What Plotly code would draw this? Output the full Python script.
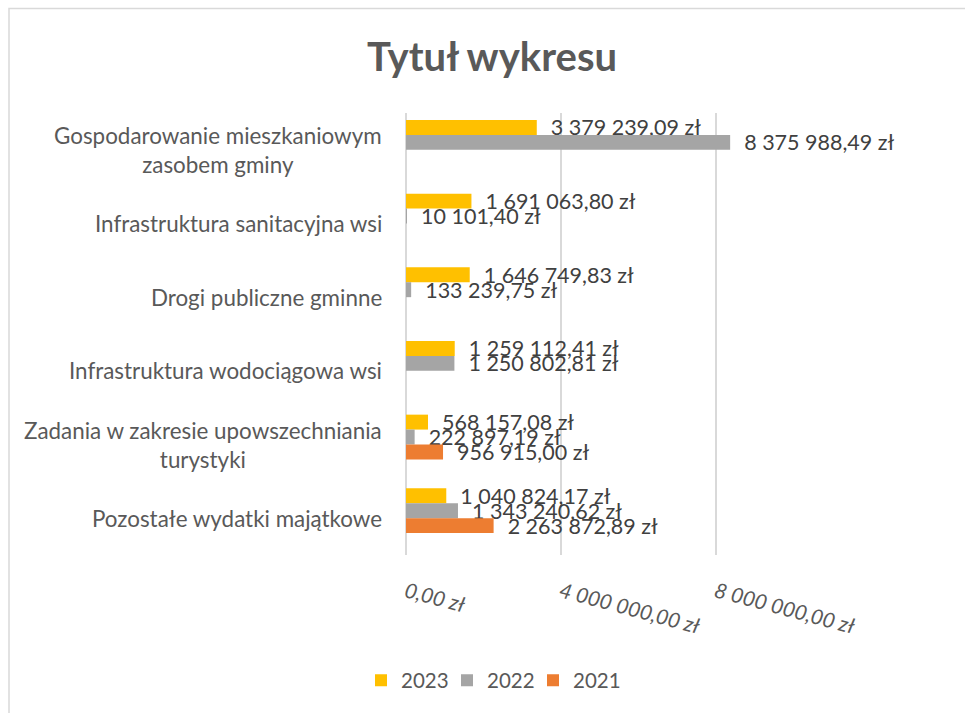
import plotly.graph_objects as go

categories = [
    "Gospodarowanie mieszkaniowym<br>zasobem gminy",
    "Infrastruktura sanitacyjna wsi",
    "Drogi publiczne gminne",
    "Infrastruktura wodociągowa wsi",
    "Zadania w zakresie upowszechniania<br>turystyki",
    "Pozostałe wydatki majątkowe",
]
series_names = ["2023", "2022", "2021"]
v2023 = [3379239.09, 1691063.80, 1646749.83, 1259112.41, 568157.08, 1040824.17]
v2022 = [8375988.49, 10101.40, 133239.75, 1250802.81, 222897.19, 1343240.62]
v2021 = [None, None, None, None, 956915.00, 2263872.89]
tick_vals = [0, 4000000, 8000000]
tick_text = ["0,00 zł", "4 000 000,00 zł", "8 000 000,00 zł"]
title_text = "Tytuł wykresu"

colors = ["#FFC000", "#A5A5A5", "#ED7D31"]
W, H = 965, 713
ML, MR, MT, MB = 406, 172, 113, 156
PW = W - ML - MR
PH = H - MT - MB
BAND = PH / 6.0
BAR = 15.0
legend_text_x = [401, 487, 573]  # px where each legend label starts
legend_ids = ["legend", "legend2", "legend3"]


def fmt(v):
    if v is None:
        return ""
    s = f"{v:,.2f}".replace(",", " ").replace(".", ",")
    return "\u00a0\u00a0" + s + " zł"


keys = [c.replace("<br>", " ") for c in categories]
fig = go.Figure()
for i, (name, vals) in enumerate(zip(series_names, [v2023, v2022, v2021])):
    fig.add_trace(go.Bar(
        name=name,
        y=keys,
        x=vals,
        orientation="h",
        marker=dict(color=colors[i], line=dict(width=0)),
        width=BAR / BAND,
        offset=(-30 + 15 * i) / BAND,
        text=[fmt(v) for v in vals],
        textposition="outside",
        constraintext="none",
        cliponaxis=False,
        textfont=dict(family="Lato", size=21.5, color="#404040"),
        hoverinfo="x+y",
        legend=legend_ids[i],
    ))

annotations = []
for key, cat in zip(keys, categories):
    annotations.append(dict(
        x=0, xref="paper", y=key, yref="y",
        text=cat, showarrow=False, xanchor="right", yanchor="middle",
        align="center", xshift=-22,
        font=dict(family="Lato", size=22.4, color="#595959"),
    ))

legends = {}
for i, lid in enumerate(legend_ids):
    legends[lid] = dict(
        orientation="h", x=(legend_text_x[i] - 40 - ML) / PW, xanchor="left",
        y=(PH - (683 - MT)) / PH, yanchor="middle",
        font=dict(family="Lato", size=20.5, color="#595959"),
        itemwidth=30, bgcolor="rgba(0,0,0,0)", borderwidth=0,
    )

fig.update_layout(
    width=W, height=H,
    margin=dict(l=ML, r=MR, t=MT, b=MB, pad=0),
    paper_bgcolor="white", plot_bgcolor="white",
    barmode="overlay",
    title=dict(text="<b>" + title_text + "</b>", x=492 / W, xanchor="center",
               y=1 - 57 / H, yanchor="middle", xref="container", yref="container",
               font=dict(family="Lato", size=40, color="#595959")),
    xaxis=dict(range=[0, 10000000], tickvals=tick_vals, ticktext=tick_text,
               tickangle=15, showgrid=True, gridcolor="#D9D9D9", gridwidth=1.5,
               zeroline=True, zerolinecolor="#D9D9D9", zerolinewidth=2,
               showline=False, ticks="", ticklabelstandoff=20,
               tickfont=dict(family="Lato", size=21, color="#595959", style="italic")),
    yaxis=dict(type="category", categoryorder="array", categoryarray=keys,
               range=[5.5, -0.5], showticklabels=False, showgrid=False,
               zeroline=False, showline=False, ticks=""),
    showlegend=True,
    annotations=annotations,
    shapes=[dict(type="rect", xref="paper", yref="paper",
                 x0=(9 - ML) / PW, x1=(975 - ML) / PW,
                 y0=(PH - (720 - MT)) / PH, y1=(PH - (8 - MT)) / PH,
                 line=dict(color="#D9D9D9", width=1.5), fillcolor="rgba(0,0,0,0)",
                 layer="below")],
    **legends,
)

fig.write_html("out.html", config={"displayModeBar": False},
               post_script="document.body.style.margin='0';")
